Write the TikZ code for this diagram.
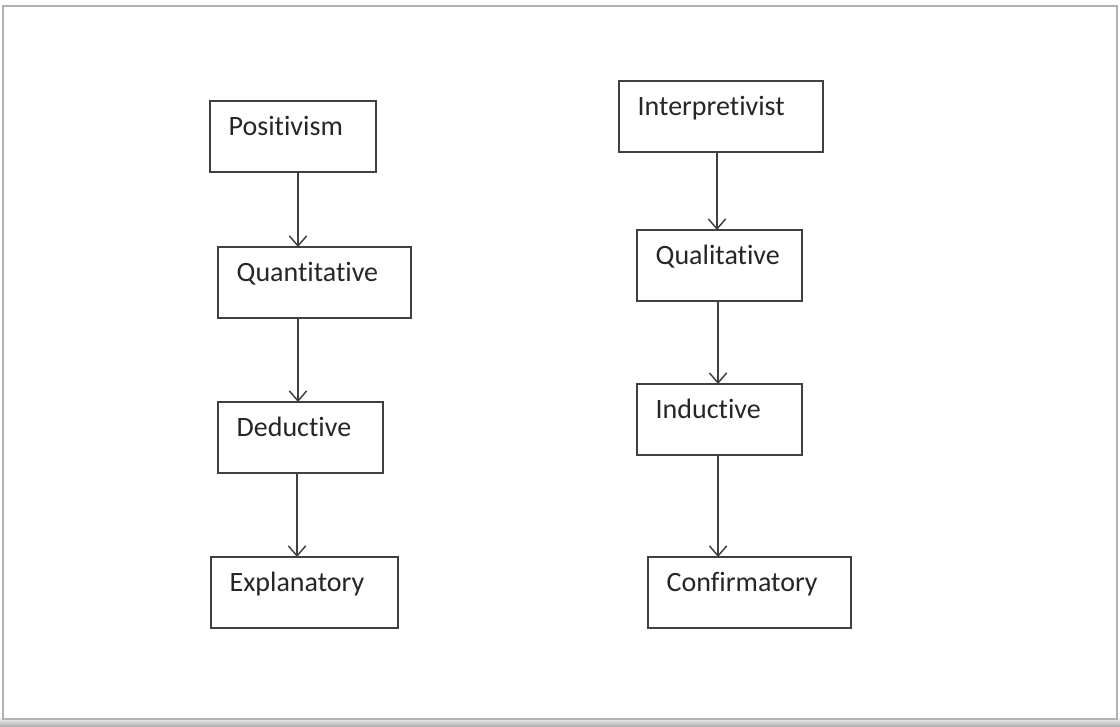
\documentclass[tikz,border=0pt]{standalone}
\usepackage{fontspec}
\setmainfont[RawFeature={-liga;-clig;-dlig}]{Carlito}
\usetikzlibrary{arrows.meta}

\begin{document}
\begin{tikzpicture}[x=0.75pt,y=-0.75pt,
    stage/.style={draw=black!75, line width=1.1pt, anchor=north west, align=left,
        outer sep=0pt, inner xsep=14pt, inner ysep=0pt,
        text height=25.5pt, text depth=27.75pt, text width=#1,
        font=\fontsize{21}{25}\selectfont, text=black!85},
    flow/.style={draw=black!75, line width=1.1pt, -{Straight Barb[length=7.5pt,width=13pt]}}]
\useasboundingbox (0,0) rectangle (1120,726);

% page frame
\shade[top color=white, bottom color=black!30] (0,716) rectangle (1120,726);
\fill[white] (3,6) rectangle (1117,719);
\draw[black!30, line width=1.2pt] (3,6) rectangle (1117,719);

% left column
\node[stage=96.5pt]  (pos)   at (210,101) {Positivism};
\node[stage=116.75pt] (quant) at (218,247) {Quantitative};
\node[stage=95.75pt] (ded)   at (218,402) {Deductive};
\node[stage=112.25pt] (expl)  at (211,557) {Explanatory};

% right column
\node[stage=125pt]   (interp) at (619,81)  {Interpretivist};
\node[stage=95.75pt] (qual)   at (637,230) {Qualitative};
\node[stage=95.75pt] (ind)    at (637,384) {Inductive};
\node[stage=124.25pt] (conf)  at (648,557) {Confirmatory};

% left arrows
\draw[flow] ([xshift=3.75pt]pos.south) -- ([xshift=3.75pt]pos.south |- quant.north);
\draw[flow] ([xshift=-12.4pt]quant.south) -- ([xshift=-12.4pt]quant.south |- ded.north);
\draw[flow] ([xshift=-2.6pt]ded.south) -- ([xshift=-2.6pt]ded.south |- expl.north);

% right arrows
\draw[flow] ([xshift=-3pt]interp.south) -- ([xshift=-3pt]interp.south |- qual.north);
\draw[flow] ([xshift=-1.1pt]qual.south) -- ([xshift=-1.1pt]qual.south |- ind.north);
\draw[flow] ([xshift=-1.1pt]ind.south) -- ([xshift=-1.1pt]ind.south |- conf.north);

\end{tikzpicture}
\end{document}
